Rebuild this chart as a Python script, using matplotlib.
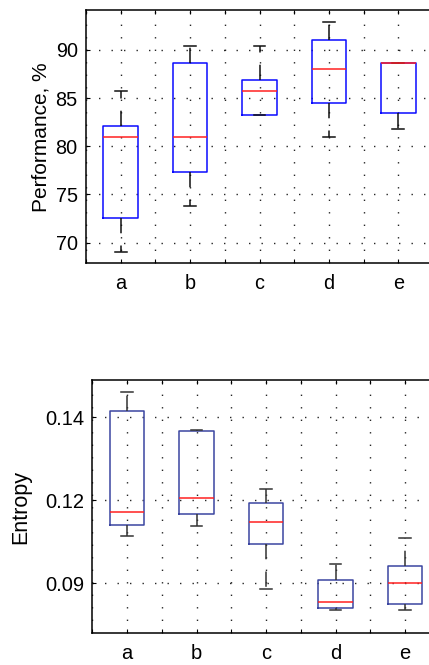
"""Box plots of performance and entropy for five conditions."""

import matplotlib
matplotlib.use('Agg')
import matplotlib.pyplot as plt
from matplotlib.ticker import MultipleLocator

plt.rcParams['font.family'] = ['Liberation Sans', 'DejaVu Sans']

groups = ['a', 'b', 'c', 'd', 'e']

# performance, % (five-number summaries)
perf_whislo = [69.0, 73.8, 83.3, 81.0, 81.85]
perf_q1 = [72.6, 77.35, 83.3, 84.5, 83.5]
perf_med = [81.0, 81.0, 85.7, 88.05, 88.6]
perf_q3 = [82.1, 88.7, 86.85, 91.05, 88.6]
perf_whishi = [85.7, 90.45, 90.45, 92.9, 88.6]

# entropy (five-number summaries)
ent_whislo = [0.1115, 0.1139, 0.0986, 0.0935, 0.0936]
ent_q1 = [0.1141, 0.1167, 0.1096, 0.0940, 0.0951]
ent_med = [0.1171, 0.1205, 0.1147, 0.0955, 0.1001]
ent_q3 = [0.1416, 0.1366, 0.1194, 0.1009, 0.1042]
ent_whishi = [0.1462, 0.1369, 0.1227, 0.1047, 0.1109]
ent_ticks = [0.10, 0.12, 0.14]
ent_ticklabels = ['0.09', '0.12', '0.14']


def make_stats(whislo, q1, med, q3, whishi):
    return [dict(label=g, whislo=lo, q1=a, med=m, q3=b, whishi=hi, fliers=[])
            for g, lo, a, m, b, hi in zip(groups, whislo, q1, med, q3, whishi)]


def draw_boxes(ax, stats, box_color, whisker_color, fontsize):
    ax.bxp(
        stats,
        positions=range(1, len(stats) + 1),
        widths=0.5,
        capwidths=0.17,
        showfliers=False,
        boxprops=dict(color=box_color, linewidth=1.1),
        medianprops=dict(color='#ff2020', linewidth=1.1),
        whiskerprops=dict(color=whisker_color, linewidth=1.1, linestyle=(0, (10, 8))),
        capprops=dict(color=whisker_color, linewidth=1.1),
    )
    ax.set_xlim(0.5, 5.5)
    ax.set_xticks(range(1, 6))
    ax.set_xticklabels(groups)
    ax.xaxis.set_minor_locator(MultipleLocator(0.5))
    grid_style = dict(color='0.15', linewidth=1.0, linestyle=(0, (1, 8)))
    ax.grid(True, which='major', **grid_style)
    ax.grid(True, which='minor', axis='x', **grid_style)
    ax.set_axisbelow(True)
    ax.tick_params(which='both', direction='in', length=3, width=0.8,
                   top=True, right=True, labelsize=fontsize)
    ax.tick_params(axis='x', which='major', pad=8)
    ax.tick_params(axis='y', pad=6)
    for spine in ax.spines.values():
        spine.set_linewidth(1.1)


fig = plt.figure(figsize=(4.29, 6.65), dpi=100)

# performance panel
ax1 = fig.add_axes([0.2005, 0.6041, 0.8088, 0.3804])
draw_boxes(ax1, make_stats(perf_whislo, perf_q1, perf_med, perf_q3, perf_whishi),
           '#0a0aff', '#111111', 14.3)
ax1.set_ylim(67.86, 94.12)
ax1.set_yticks([70, 75, 80, 85, 90])
ax1.set_ylabel('Performance, %', fontsize=15, labelpad=4)

# entropy panel
ax2 = fig.add_axes([0.2152, 0.0477, 0.8098, 0.3809])
draw_boxes(ax2, make_stats(ent_whislo, ent_q1, ent_med, ent_q3, ent_whishi),
           '#3a45a0', '#333333', 14.5)
ax2.set_ylim(0.0880, 0.1490)
ax2.set_yticks(ent_ticks)
ax2.set_yticklabels(ent_ticklabels)
ax2.set_ylabel('Entropy', fontsize=15.5, labelpad=10)

fig.savefig('out.png', dpi=100)
